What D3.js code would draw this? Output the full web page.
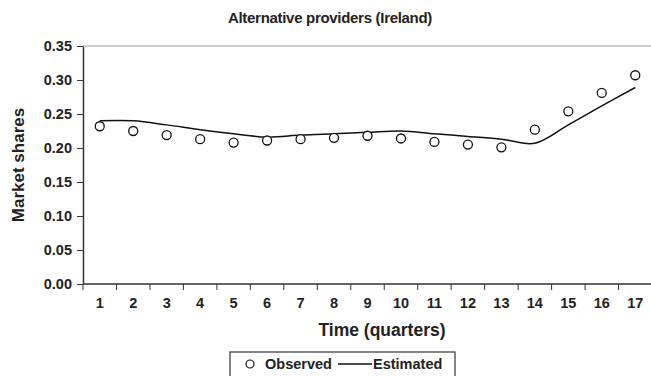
<!DOCTYPE html>
<html>
<head>
<meta charset="utf-8">
<script src="https://cdn.jsdelivr.net/npm/d3@7"></script>
<style>
  body { margin: 0; background: #fff; }
  svg { display: block; font-family: "Liberation Sans", Arial, sans-serif; }
  .axis text { font-size: 14.5px; font-weight: bold; fill: #222; }
  .axis path, .axis line { stroke: #333; }
</style>
</head>
<body>
<div id="chart"></div>
<script>
// chart values
var quarters = ['1','2','3','4','5','6','7','8','9','10','11','12','13','14','15','16','17'];
var observed = [0.232, 0.225, 0.219, 0.213, 0.208, 0.211, 0.213, 0.215, 0.218, 0.214, 0.209, 0.205, 0.201, 0.227, 0.254, 0.281, 0.307];
var estimated = [0.240, 0.240, 0.234, 0.227, 0.221, 0.216, 0.219, 0.221, 0.223, 0.225, 0.221, 0.217, 0.213, 0.207, 0.234, 0.262, 0.289];
var yTicks = [0, 0.05, 0.10, 0.15, 0.20, 0.25, 0.30, 0.35];

var svgWidth = 651;
var svgHeight = 376;

var margin = { top: 46, right: 0, bottom: 92, left: 83 };
var height = svgHeight - margin.top - margin.bottom;

var svg = d3.select('#chart')
  .append('svg')
  .attr('width', svgWidth)
  .attr('height', svgHeight);

var xScale = d3.scaleBand()
  .domain(quarters)
  .range([margin.left, 652]);

var yScale = d3.scaleLinear()
  .domain([0, 0.35])
  .range([margin.top + height, margin.top]);

// top gridline
svg.append('line')
  .attr('x1', margin.left)
  .attr('x2', svgWidth)
  .attr('y1', yScale(0.35))
  .attr('y2', yScale(0.35))
  .attr('stroke', '#999')
  .attr('stroke-width', 1.2);

// y axis
var leftAxis = d3.axisLeft(yScale)
  .tickValues(yTicks)
  .tickFormat(d3.format('.2f'))
  .tickSize(6)
  .tickPadding(5)
  .tickSizeOuter(0);

svg.append('g')
  .attr('class', 'axis')
  .attr('transform', `translate(${margin.left}, 0)`)
  .call(leftAxis)
  .call(g => g.select('.domain').attr('stroke-width', 1.5));

// x axis: labels at centres, tick marks between categories
var bottomAxis = d3.axisBottom(xScale)
  .tickSize(0)
  .tickPadding(14)
  .tickSizeOuter(0);

var xAxisG = svg.append('g')
  .attr('class', 'axis')
  .attr('transform', `translate(0, ${yScale(0)})`)
  .call(bottomAxis);

xAxisG.select('.domain')
  .attr('d', `M${margin.left},0H${svgWidth}`)
  .attr('stroke-width', 1.5);

var edges = quarters.map(q => xScale(q)).concat([xScale.range()[1]]);
xAxisG.selectAll('.edge')
  .data(edges)
  .enter()
  .append('line')
  .attr('class', 'edge')
  .attr('x1', d => d)
  .attr('x2', d => d)
  .attr('y1', 0)
  .attr('y2', 6)
  .attr('stroke', '#333');

var cx = d => xScale(d) + xScale.bandwidth() / 2;

// estimated line
var line = d3.line()
  .x((d, i) => cx(quarters[i]))
  .y(d => yScale(d))
  .curve(d3.curveCatmullRom.alpha(0.5));

svg.append('path')
  .datum(estimated)
  .attr('d', line)
  .attr('fill', 'none')
  .attr('stroke', '#111')
  .attr('stroke-width', 1.5);

// observed circles
svg.selectAll('.obs')
  .data(observed)
  .enter()
  .append('circle')
  .attr('class', 'obs')
  .attr('cx', (d, i) => cx(quarters[i]))
  .attr('cy', d => yScale(d))
  .attr('r', 4.5)
  .attr('fill', '#fff')
  .attr('stroke', '#111')
  .attr('stroke-width', 1.3);

// titles
svg.append('text')
  .attr('x', 330)
  .attr('y', 23)
  .attr('text-anchor', 'middle')
  .attr('font-size', '15px')
  .attr('font-weight', 'bold')
  .attr('letter-spacing', '-0.3px')
  .attr('fill', '#222')
  .text('Alternative providers (Ireland)');

svg.append('text')
  .attr('transform', `translate(24, ${yScale(0.175)}) rotate(-90)`)
  .attr('text-anchor', 'middle')
  .attr('font-size', '17px')
  .attr('font-weight', 'bold')
  .attr('fill', '#222')
  .text('Market shares');

svg.append('text')
  .attr('x', 382)
  .attr('y', 336)
  .attr('text-anchor', 'middle')
  .attr('font-size', '17.5px')
  .attr('font-weight', 'bold')
  .attr('fill', '#222')
  .text('Time (quarters)');

// legend
var legend = svg.append('g').attr('transform', 'translate(230, 352)');

legend.append('rect')
  .attr('x', 0)
  .attr('y', 0)
  .attr('width', 225)
  .attr('height', 30)
  .attr('fill', '#fff')
  .attr('stroke', '#333')
  .attr('stroke-width', 1.2);

legend.append('circle')
  .attr('cx', 20)
  .attr('cy', 12)
  .attr('r', 4)
  .attr('fill', '#fff')
  .attr('stroke', '#111')
  .attr('stroke-width', 1.2);

legend.append('text')
  .attr('x', 35)
  .attr('y', 17)
  .attr('font-size', '14.5px')
  .attr('font-weight', 'bold')
  .attr('fill', '#222')
  .text('Observed');

legend.append('line')
  .attr('x1', 108)
  .attr('x2', 142)
  .attr('y1', 12)
  .attr('y2', 12)
  .attr('stroke', '#111')
  .attr('stroke-width', 1.3);

legend.append('text')
  .attr('x', 143)
  .attr('y', 17)
  .attr('font-size', '14.5px')
  .attr('font-weight', 'bold')
  .attr('fill', '#222')
  .text('Estimated');
</script>
</body>
</html>
